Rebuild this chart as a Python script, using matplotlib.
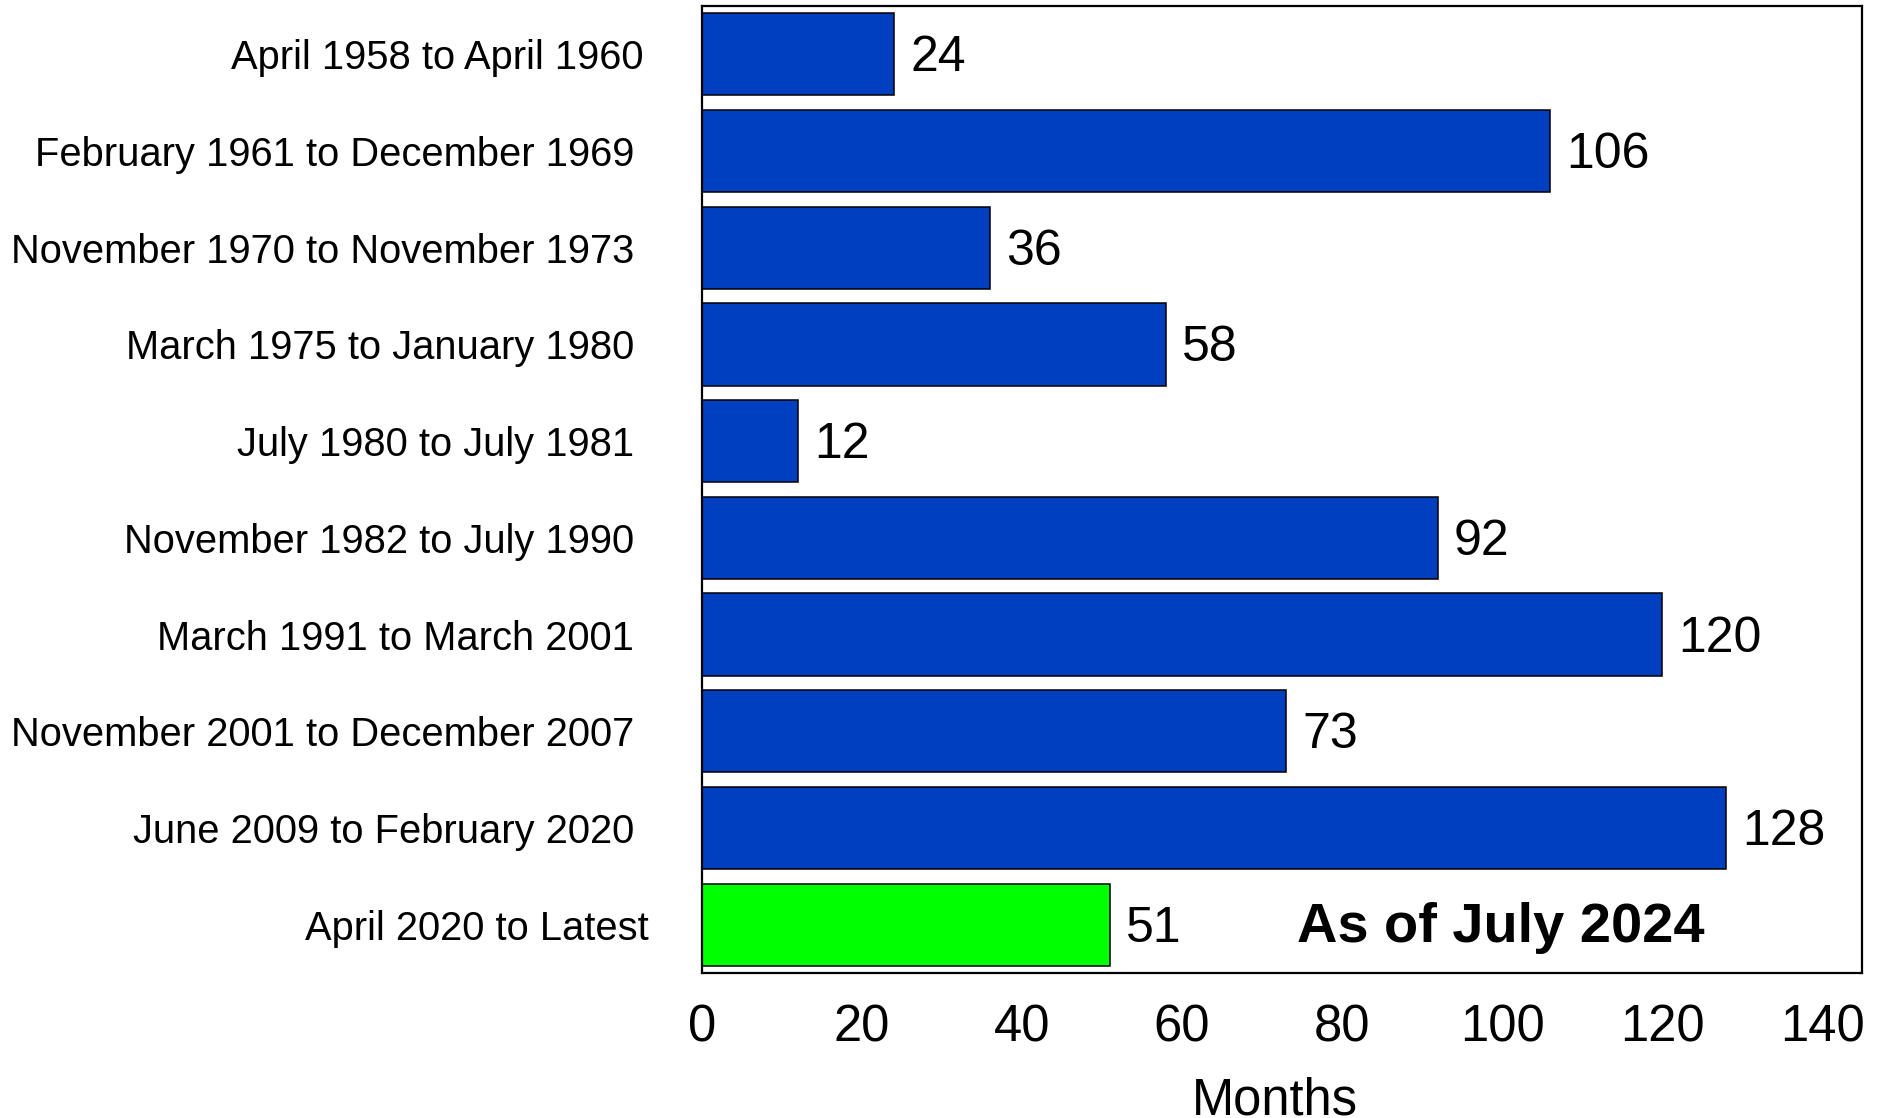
import matplotlib
matplotlib.use("Agg")
import matplotlib.pyplot as plt

categories = [
    "April 1958 to April 1960",
    "February 1961 to December 1969",
    "November 1970 to November 1973",
    "March 1975 to January 1980",
    "July 1980 to July 1981",
    "November 1982 to July 1990",
    "March 1991 to March 2001",
    "November 2001 to December 2007",
    "June 2009 to February 2020",
    "April 2020 to Latest",
]
months = [24, 106, 36, 58, 12, 92, 120, 73, 128, 51]
bar_colors = ["#0040C0"] * 9 + ["#00FF00"]
xticks = [0, 20, 40, 60, 80, 100, 120, 140]
note = "As of July 2024"
xlabel = "Months"

plt.rcParams['font.family'] = ['Liberation Sans', 'DejaVu Sans']

fig = plt.figure(figsize=(18.85, 11.18), dpi=100)
ax = fig.add_axes([702/1885, 1-973/1118, (1862-702)/1885, (973-6)/1118])

y = list(range(len(categories)))
ax.barh(y, months, height=0.85, color=bar_colors, edgecolor="black", linewidth=1.1)
ax.set_ylim(len(categories)-0.5, -0.5)
ax.set_xlim(0, 145)

for yi, v in zip(y, months):
    ax.annotate(str(v), xy=(v, yi), xycoords="data", xytext=(16, -4),
                textcoords="offset pixels", va="center", ha="left", fontsize=36)

ax.set_yticks(y)
ax.set_yticklabels([])
n = len(categories)
for i, lab in enumerate(categories):
    xr = 649 if i == n-1 else (643 if i == 0 else 634)
    ax.annotate(lab, xy=(0, i), xycoords=ax.get_yaxis_transform(),
                xytext=(xr - 702, -4), textcoords="offset pixels",
                ha="right", va="center", fontsize=28.7)

ax.set_xticks(xticks)
ax.set_xticklabels([str(t) for t in xticks], fontsize=36.5)
ax.tick_params(axis="both", length=0)
ax.tick_params(axis="x", pad=22)
ax.set_xlabel(xlabel, fontsize=36.5, va="center")
ax.xaxis.set_label_coords((1275-702)/1160, (973-1101)/967)

ax.annotate(note, xy=(0, 9), xycoords=ax.get_yaxis_transform(),
            xytext=(1501 - 702, -3), textcoords="offset pixels",
            ha="center", va="center", fontsize=40.3, fontweight="bold")

for s in ax.spines.values():
    s.set_linewidth(1.6)
    s.set_color("black")

fig.savefig("out.png", dpi=100)
